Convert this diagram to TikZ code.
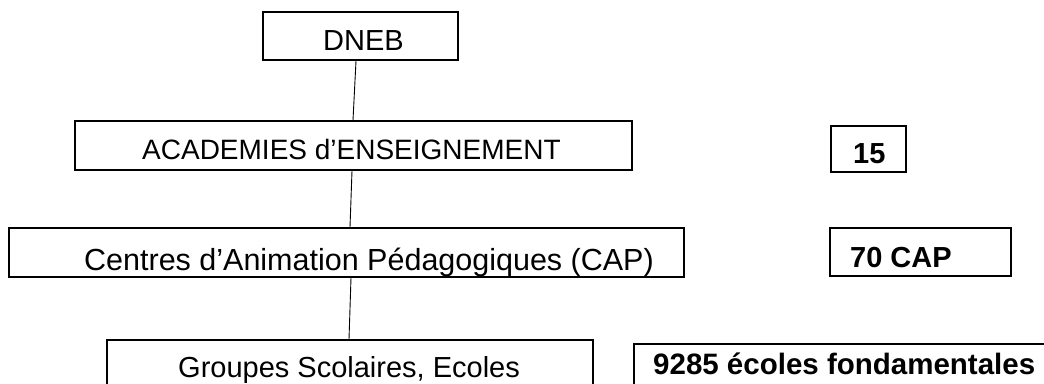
\documentclass[tikz,border=0pt]{standalone}
\usepackage{fontspec}
\setmainfont{Liberation Sans}

\begin{document}
\begin{tikzpicture}[x=1pt,y=-1pt,
        boite/.style={draw,line width=1.6pt,inner sep=0pt},
        texte/.style={anchor=base west,inner sep=0pt,font=\fontsize{29}{32}\selectfont},
        gras/.style={texte,font=\fontsize{29}{32}\selectfont\bfseries},
        trait/.style={line width=0.9pt}]
        \useasboundingbox (0,0) rectangle (1044,383);
        % les boites de gauche
        \node[boite,minimum width=195pt,minimum height=48pt] (dneb) at (360.5,36) {};
        \node[boite,minimum width=557pt,minimum height=49pt] (acad) at (353.5,145.5) {};
        \node[boite,minimum width=675pt,minimum height=49pt] (cap) at (346.5,252.5) {};
        \node[boite,minimum width=486pt,minimum height=80pt] (ecoles) at (350,380) {};
        % les boites de droite
        \node[boite,minimum width=75pt,minimum height=46pt] (nacad) at (868.5,149) {};
        \node[boite,minimum width=181pt,minimum height=48pt] (ncap) at (920.5,252) {};
        \node[boite,minimum width=426pt,minimum height=80pt] (necoles) at (847,384) {};
        % les textes
        \node[texte] (tdneb) at (323,50) {DNEB};
        \node[texte,font=\fontsize{28}{32}\selectfont] (tacad) at (142,159) {ACADEMIES d’ENSEIGNEMENT};
        \begin{scope}
            \clip (cap.north west) rectangle (cap.south east);
            \node[texte,font=\fontsize{30.5}{32}\selectfont] (tcap) at (84,270) {Centres d’Animation Pédagogiques (CAP)};
        \end{scope}
        \node[texte] (tecoles) at (178,377) {Groupes Scolaires, Ecoles};
        \node[gras] (tnacad) at (853,163) {15};
        \node[gras] (tncap) at (850,267) {70 CAP};
        \node[gras,font=\fontsize{29.5}{32}\selectfont\bfseries] (tnecoles) at (653,374) {9285 écoles fondamentales};
        % les traits
        \draw[trait] ([xshift=-4.5pt]dneb.south) -- ([xshift=-0.5pt]acad.north);
        \draw[trait] ([xshift=-1.5pt]acad.south) -- ([xshift=3.5pt]cap.north);
        \draw[trait] ([xshift=4.5pt]cap.south) -- ([xshift=-1pt]ecoles.north);
\end{tikzpicture}
\end{document}
